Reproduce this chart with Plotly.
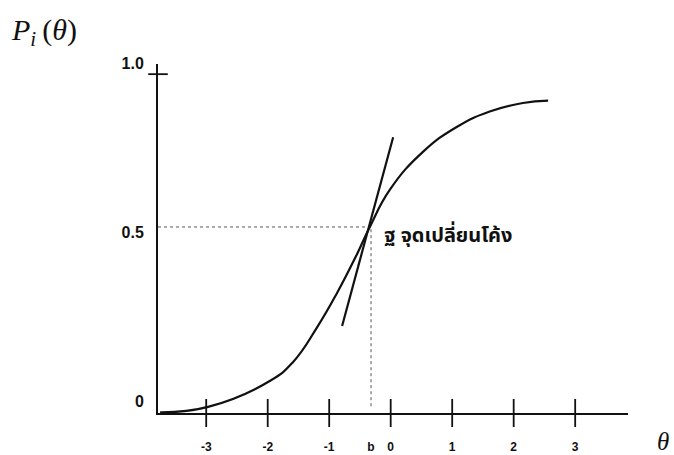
import plotly.graph_objects as go

# Item characteristic curve
theta_pts = [-3.75, -2.97, -1.96, -1.59, -1.20, -0.87, -0.55, -0.34, -0.01, 0.52, 1.08, 1.61, 2.15, 2.56]
p_pts = [0.002, 0.018, 0.095, 0.150, 0.252, 0.355, 0.468, 0.549, 0.660, 0.770, 0.845, 0.890, 0.915, 0.922]

# Tangent line at the inflection point
tangent_theta = [-0.79, 0.04]
tangent_p = [0.257, 0.814]

# Inflection point
b_theta = -0.32
b_p = 0.549

# Axes
x_min, x_max = -3.784, 3.859
y_min, y_max = 0.0, 1.03
x_ticks = [-3, -2, -1, 0, 1, 2, 3]
x_tick_vals = [-3, -2, -1, b_theta, 0, 1, 2, 3]
x_tick_text = ["-3", "-2", "-1", "b", "0", "1", "2", "3"]
y_tick_vals = [0, 0.5, 1.0]
y_tick_text = ["0", "0.5", "1.0"]

label_text = "ฐ จุดเปลี่ยนโค้ง"

fig = go.Figure()

# dotted guide lines
fig.add_trace(go.Scatter(x=[x_min, b_theta], y=[b_p, b_p], mode="lines",
                         line=dict(color="#555", width=1, dash="dot"), hoverinfo="skip"))
fig.add_trace(go.Scatter(x=[b_theta, b_theta], y=[0.02, b_p], mode="lines",
                         line=dict(color="#555", width=1, dash="dot"), hoverinfo="skip"))

# curve
fig.add_trace(go.Scatter(x=theta_pts, y=p_pts, mode="lines",
                         line=dict(color="#111", width=2.2, shape="spline", smoothing=1.3),
                         cliponaxis=False))
# tangent
fig.add_trace(go.Scatter(x=tangent_theta, y=tangent_p, mode="lines",
                         line=dict(color="#111", width=2.2)))

# cross tick marks on x axis
fig.add_trace(go.Scatter(x=x_ticks, y=[0] * len(x_ticks), mode="markers",
                         marker=dict(symbol="line-ns", size=20, line=dict(color="#111", width=1.8)),
                         cliponaxis=False, hoverinfo="skip"))
# cross tick at 1.0 on y axis
fig.add_trace(go.Scatter(x=[x_min], y=[1.0], mode="markers",
                         marker=dict(symbol="line-ew", size=14, line=dict(color="#111", width=1.8)),
                         cliponaxis=False, hoverinfo="skip"))

fig.add_annotation(x=-0.125, y=0.522, xref="x", yref="y", text=label_text,
                   showarrow=False, xanchor="left", yanchor="middle", borderpad=0,
                   font=dict(family="Noto Sans Thai, Loma, Garuda, Noto Sans, sans-serif",
                             size=20, color="#111", weight="bold"))

fig.add_annotation(x=-0.318, y=1.093, xref="paper", yref="paper",
                   text="<i>P</i><sub><i>i</i></sub>\u2009(<i>θ</i>)",
                   showarrow=False, xanchor="left", yanchor="middle",
                   font=dict(family="Liberation Serif, Times New Roman, serif", size=30, color="#111"))

fig.add_annotation(x=1.092, y=-0.083, xref="paper", yref="paper",
                   text="<i>θ</i>", showarrow=False, xanchor="right", yanchor="middle",
                   font=dict(family="Liberation Serif, Times New Roman, serif", size=25, color="#111"))

fig.update_layout(
    width=674, height=455,
    margin=dict(l=158, r=46, t=64, b=42, autoexpand=False),
    paper_bgcolor="white", plot_bgcolor="white",
    showlegend=False,
    xaxis=dict(range=[x_min, x_max], showline=True, linecolor="#111", linewidth=2,
               showgrid=False, zeroline=False, ticks="", automargin=False,
               tickvals=x_tick_vals, ticktext=x_tick_text, ticklabelstandoff=22,
               tickfont=dict(family="Liberation Sans, Arial, sans-serif", size=12, color="#111", weight="bold")),
    yaxis=dict(range=[y_min, y_max], showline=True, linecolor="#111", linewidth=2,
               showgrid=False, zeroline=False, ticks="", automargin=False,
               tickvals=y_tick_vals, ticktext=y_tick_text, ticklabelstandoff=9,
               ticklabelposition="outside top",
               tickfont=dict(family="Liberation Sans, Arial, sans-serif", size=16, color="#111", weight="bold")),
)

fig.write_html("out.html", config={"displayModeBar": False},
               post_script="document.body.style.margin='0';")
